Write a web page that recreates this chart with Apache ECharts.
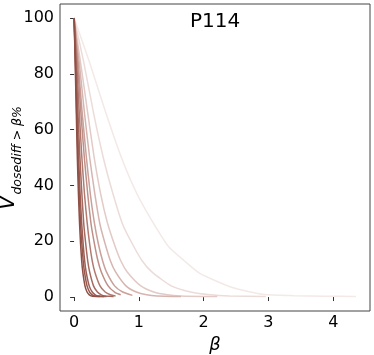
<!DOCTYPE html>
<html><head><meta charset="utf-8">
<script src="https://cdn.jsdelivr.net/npm/echarts@6/dist/echarts.min.js"></script>
<style>html,body{margin:0;padding:0;background:#fff}#c{width:374px;height:355px}</style>
</head><body><div id="c"></div>
<script>
// x tick labels and y tick labels
const xTicks = [0, 1, 2, 3, 4];
const yTicks = [0, 20, 40, 60, 80, 100];

// Curves: [beta, V] pairs (darkest to lightest)
const curve01 = [[0,100],[0.017,84],[0.034,66],[0.05,50],[0.067,37],[0.084,26.5],[0.1,19],[0.117,13],[0.134,9],[0.168,4],[0.2,1.8],[0.235,0.8],[0.27,0.4],[0.4,0.2]];
const curve02 = [[0,100],[0.02,84],[0.04,66],[0.06,50],[0.08,37],[0.1,26],[0.12,19],[0.14,13],[0.16,9],[0.2,4],[0.24,1.8],[0.28,0.8],[0.32,0.4],[0.46,0.2]];
const curve03 = [[0,100],[0.023,84],[0.047,66],[0.07,50],[0.093,37],[0.116,27],[0.14,19],[0.163,13],[0.186,9],[0.233,4],[0.28,1.8],[0.326,0.8],[0.372,0.4],[0.5,0.2]];
const curve04 = [[0,100],[0.03,84],[0.06,66],[0.09,50],[0.12,37],[0.15,26],[0.18,19],[0.21,13],[0.24,9],[0.3,4],[0.36,1.8],[0.42,0.8],[0.48,0.4],[0.61,0.2]];
const curve05 = [[0,100],[0.04,84],[0.08,66],[0.12,50],[0.16,37],[0.2,27],[0.24,19],[0.28,13],[0.32,9],[0.4,4],[0.48,1.8],[0.56,0.8],[0.64,0.4]];
const curve06 = [[0,100],[0.053,84],[0.105,66],[0.158,50],[0.21,37],[0.263,26],[0.315,19],[0.368,13],[0.42,9],[0.525,4],[0.63,1.7],[0.72,0.8]];
const curve07 = [[0,100],[0.063,84],[0.125,66],[0.19,50],[0.25,37],[0.31,27],[0.375,19],[0.44,13],[0.5,9],[0.625,4],[0.75,1.8],[0.9,0.6]];
const curve08 = [[0,100],[0.08,84],[0.16,66],[0.24,50],[0.32,37],[0.4,26],[0.48,19],[0.56,13],[0.64,9],[0.8,4],[0.96,1.8],[1.12,0.8],[1.28,0.4],[1.65,0.2]];
const curve09 = [[0,100],[0.1,84],[0.21,66],[0.31,50],[0.41,37],[0.51,27],[0.62,19],[0.72,13],[0.82,9],[1.03,4],[1.23,1.8],[1.44,0.8],[1.64,0.4],[2.21,0.2]];
const curve10 = [[0,100],[0.15,84],[0.3,66],[0.45,50],[0.6,37],[0.75,26],[0.9,19],[1.05,13],[1.2,9],[1.5,4],[1.8,1.8],[2.1,0.8],[2.4,0.4],[2.96,0.2]];
const curve11 = [[0,100],[0.24,84],[0.49,66],[0.73,50],[0.97,37],[1.21,27],[1.46,18],[1.7,13],[1.94,8.5],[2.43,3.5],[2.91,1],[3.4,0.5],[3.88,0.3],[4.35,0.2]];

const curves = [curve11, curve10, curve09, curve08, curve07, curve06, curve05, curve04, curve03, curve02, curve01];
const colors = ['#f3e9e7','#ecdcd9','#e2cac6','#d6b5b0','#c9a09a','#bf8f87','#b07a71','#a4695f','#9d6056','#97584e','#8f4f45'];

const FONT = 'DejaVu Sans';
const chart = echarts.init(document.getElementById('c'), null, {renderer: 'canvas'});
chart.setOption({
  animation: false,
  backgroundColor: '#fff',
  grid: {left: 60, right: 4, top: 4, bottom: 44, show: true, borderColor: '#444', borderWidth: 1,
         backgroundColor: 'transparent', containLabel: false, outerBoundsMode: 'none'},
  xAxis: {
    type: 'value', min: -0.2175, max: 4.5675,
    axisLine: {show: false},
    splitLine: {show: false},
    axisTick: {show: true, customValues: xTicks, length: 4, lineStyle: {color: '#333'}},
    axisLabel: {customValues: xTicks, margin: 4, color: '#000', fontFamily: FONT, fontSize: 16},
    name: 'β', nameLocation: 'middle', nameGap: 9,
    nameTextStyle: {fontFamily: FONT, fontSize: 18, fontStyle: 'italic', color: '#000'}
  },
  yAxis: {
    type: 'value', min: -5, max: 105,
    axisLine: {show: false},
    splitLine: {show: false},
    axisTick: {show: true, customValues: yTicks, length: 4, lineStyle: {color: '#333'}},
    axisLabel: {customValues: yTicks, margin: 6, color: '#000', fontFamily: FONT, fontSize: 16}
  },
  graphic: [
    {type: 'text', x: 215, y: 22, style: {text: 'P114', fontFamily: FONT, fontSize: 20, fill: '#000', align: 'center', verticalAlign: 'middle'}},
    {type: 'text', x: 11, y: 158, rotation: Math.PI / 2,
     style: {text: '{v|V}{s|dosediff > β%}', align: 'center', verticalAlign: 'middle', fill: '#000',
       rich: {
         v: {fontFamily: FONT, fontSize: 21, fontStyle: 'italic', fill: '#000', verticalAlign: 'bottom', padding: [0, 1, 5, 0]},
         s: {fontFamily: FONT, fontSize: 12.5, fontStyle: 'italic', fill: '#000', verticalAlign: 'bottom'}
       }}}
  ],
  series: curves.map((d, i) => ({
    type: 'line', data: d, showSymbol: false, smooth: 0.2,
    lineStyle: {width: 1.5, color: colors[i]}, itemStyle: {color: colors[i]}, silent: true
  }))
});
</script></body></html>
